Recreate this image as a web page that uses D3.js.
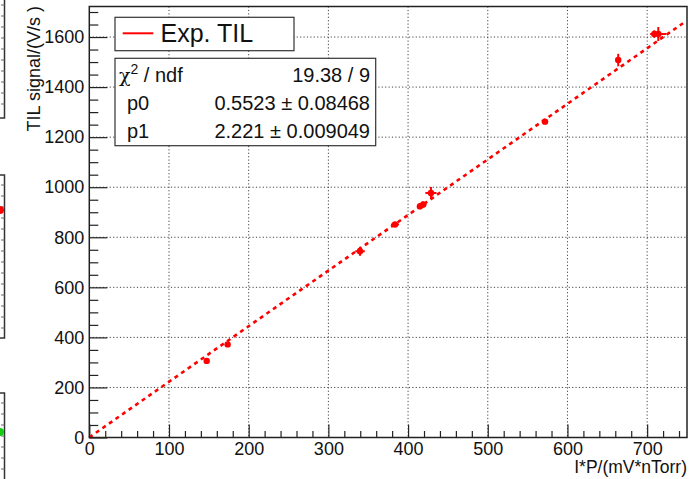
<!DOCTYPE html>
<html>
<head>
<meta charset="utf-8">
<script src="https://cdn.jsdelivr.net/npm/d3@7"></script>
<style>
  html, body { margin: 0; padding: 0; background: #fff; }
  svg { display: block; }
  text { font-family: "Liberation Sans", Arial, Helvetica, sans-serif; fill: #111; }
</style>
</head>
<body>
<svg id="chart" width="693" height="479"></svg>
<script>
// Measured TIL signal versus I*P, with x and y uncertainties
const ipValues   = [147.3, 173.6, 339.7, 383.6, 415.0, 419.0, 428.7, 571.8, 663.7, 709.0, 714.0];
const tilValues  = [306, 372, 744, 851, 924, 931, 977, 1262, 1508, 1612, 1612];
const ipErrors   = [2, 2, 6, 5, 4, 4, 7, 4, 3, 5, 10];
const tilErrors  = [8, 9, 18, 10, 12, 12, 24, 10, 25, 15, 28];

// Linear fit y = p0 + p1 * x
const fitParams = [0.5523, 2.221];
const fitRange  = [0, 745];

// Axis ticks
const xMajorTicks = [0, 100, 200, 300, 400, 500, 600, 700];
const yMajorTicks = [0, 200, 400, 600, 800, 1000, 1200, 1400, 1600];

// Legend and fit statistics box
const legendLabels = ["Exp. TIL"];
const statNames    = ["ndf", "p0", "p1"];
const statValues   = ["19.38 / 9", "0.5523 \u00b1 0.08468", "2.221 \u00b1 0.009049"];

const xTitle = "I*P/(mV*nTorr)";
const yTitle = "TIL signal/(V/s )";

const svg = d3.select("#chart");
const frame = { left: 89.3, right: 687, top: 6.5, bottom: 437.5 };

const x = d3.scaleLinear().domain([0, 750]).range([frame.left, frame.right]);
const y = d3.scaleLinear().domain([0, 1722]).range([frame.bottom, frame.top]);

const xMinorTicks = d3.range(0, 750, 20).filter(v => v % 100 !== 0);
const yMinorTicks = d3.range(0, 1722, 50).filter(v => v % 200 !== 0);

// Edges of the neighbouring pads at the left border
const sidePads = svg.append("g");
[[-5, 118], [175, 338], [393, 520]].forEach(([t, b]) => {
  sidePads.append("rect").attr("x", -20).attr("y", t).attr("width", 24.5).attr("height", b - t)
    .attr("fill", "none").attr("stroke", "#333").attr("stroke-width", 1.5);
  d3.range(t + 10, b - 4, 11).forEach(v => {
    sidePads.append("line").attr("x1", 1).attr("x2", 4.5).attr("y1", v).attr("y2", v)
      .attr("stroke", "#666").attr("stroke-width", 1);
  });
});
sidePads.append("circle").attr("cx", 0).attr("cy", 210).attr("r", 4).attr("fill", "#f00");
sidePads.append("circle").attr("cx", 0).attr("cy", 432).attr("r", 4).attr("fill", "#1c1");

// Dotted grid at major ticks
const grid = svg.append("g").attr("stroke", "#444").attr("stroke-width", 1).attr("stroke-dasharray", "1.2,2.2");
xMajorTicks.filter(v => v > 0).forEach(v => {
  grid.append("line").attr("x1", x(v)).attr("x2", x(v)).attr("y1", frame.top).attr("y2", frame.bottom);
});
yMajorTicks.filter(v => v > 0).forEach(v => {
  grid.append("line").attr("x1", frame.left).attr("x2", frame.right).attr("y1", y(v)).attr("y2", y(v));
});

// Axes with inward ticks
const axisStyle = g => {
  g.select(".domain").remove();
  g.selectAll("line").attr("stroke", "#222").attr("stroke-width", 1.2);
  g.selectAll("text").attr("font-size", 18).attr("fill", "#111")
    .attr("font-family", "'Liberation Sans', Arial, Helvetica, sans-serif");
};
svg.append("g").attr("transform", `translate(0,${frame.bottom})`)
  .call(d3.axisBottom(x).tickValues(xMinorTicks).tickSizeInner(-6.5).tickSizeOuter(0).tickFormat(""))
  .call(axisStyle);
svg.append("g").attr("transform", `translate(0,${frame.bottom})`)
  .call(d3.axisBottom(x).tickValues(xMajorTicks).tickSizeInner(-13).tickSizeOuter(0).tickPadding(4.5).tickFormat(d3.format("d")))
  .call(axisStyle);
svg.append("g").attr("transform", `translate(${frame.left},0)`)
  .call(d3.axisLeft(y).tickValues(yMinorTicks).tickSizeInner(-9).tickSizeOuter(0).tickFormat(""))
  .call(axisStyle);
svg.append("g").attr("transform", `translate(${frame.left},0)`)
  .call(d3.axisLeft(y).tickValues(yMajorTicks).tickSizeInner(-18).tickSizeOuter(0).tickPadding(5).tickFormat(d3.format("d")))
  .call(axisStyle);

// Fit line
const fit = v => fitParams[0] + fitParams[1] * v;
svg.append("path")
  .datum(fitRange)
  .attr("d", d3.line().x(d => x(d)).y(d => y(fit(d))))
  .attr("fill", "none").attr("stroke", "#f00").attr("stroke-width", 2.6)
  .attr("stroke-dasharray", "4,4");

// Data points with error bars
const pts = ipValues.map((v, i) => ({ x: v, y: tilValues[i], ex: ipErrors[i], ey: tilErrors[i] }));
const pg = svg.append("g").attr("stroke", "#f00").attr("stroke-width", 2);
pts.forEach(p => {
  pg.append("line").attr("x1", x(p.x - p.ex)).attr("x2", x(p.x + p.ex)).attr("y1", y(p.y)).attr("y2", y(p.y));
  pg.append("line").attr("x1", x(p.x)).attr("x2", x(p.x)).attr("y1", y(p.y - p.ey)).attr("y2", y(p.y + p.ey));
});
svg.append("g").selectAll("circle").data(pts).join("circle")
  .attr("cx", d => x(d.x)).attr("cy", d => y(d.y)).attr("r", 3.2).attr("fill", "#f00");

// Frame
svg.append("rect").attr("x", frame.left).attr("y", frame.top)
  .attr("width", frame.right - frame.left).attr("height", frame.bottom - frame.top)
  .attr("fill", "none").attr("stroke", "#222").attr("stroke-width", 1.5);

// Legend
const leg = svg.append("g");
leg.append("rect").attr("x", 115).attr("y", 17.3).attr("width", 179).attr("height", 33.4)
  .attr("fill", "#fff").attr("stroke", "#333").attr("stroke-width", 1.2);
leg.append("line").attr("x1", 122.7).attr("x2", 153.3).attr("y1", 33.3).attr("y2", 33.3)
  .attr("stroke", "#f00").attr("stroke-width", 2);
leg.append("text").attr("x", 160.5).attr("y", 41.7).attr("font-size", 25).text(legendLabels[0]);

// Fit statistics
const st = svg.append("g");
st.append("rect").attr("x", 115).attr("y", 58.3).attr("width", 260.7).attr("height", 87.4)
  .attr("fill", "#fff").attr("stroke", "#333").attr("stroke-width", 1.2);
const rowY = [81.7, 110, 138.3];
const chiText = st.append("text").attr("x", 119).attr("y", rowY[0]).attr("font-size", 20);
chiText.append("tspan").attr("font-family", "'DejaVu Serif', serif").attr("font-size", 19).text("\u03c7");
chiText.append("tspan").attr("font-size", 14).attr("dy", -8).text("2");
chiText.append("tspan").attr("dy", 8).text(" / " + statNames[0]);
statNames.slice(1).forEach((n, i) => {
  st.append("text").attr("x", 127).attr("y", rowY[i + 1]).attr("font-size", 20).text(n);
});
statValues.forEach((v, i) => {
  st.append("text").attr("x", 370).attr("y", rowY[i]).attr("font-size", 20)
    .attr("text-anchor", "end").text(v);
});

// Axis titles
svg.append("text").attr("x", 687).attr("y", 473).attr("font-size", 17.5)
  .attr("text-anchor", "end").text(xTitle);
svg.append("text").attr("transform", "translate(40,6) rotate(-90)")
  .attr("font-size", 18).attr("text-anchor", "end").text(yTitle);
</script>
</body>
</html>
